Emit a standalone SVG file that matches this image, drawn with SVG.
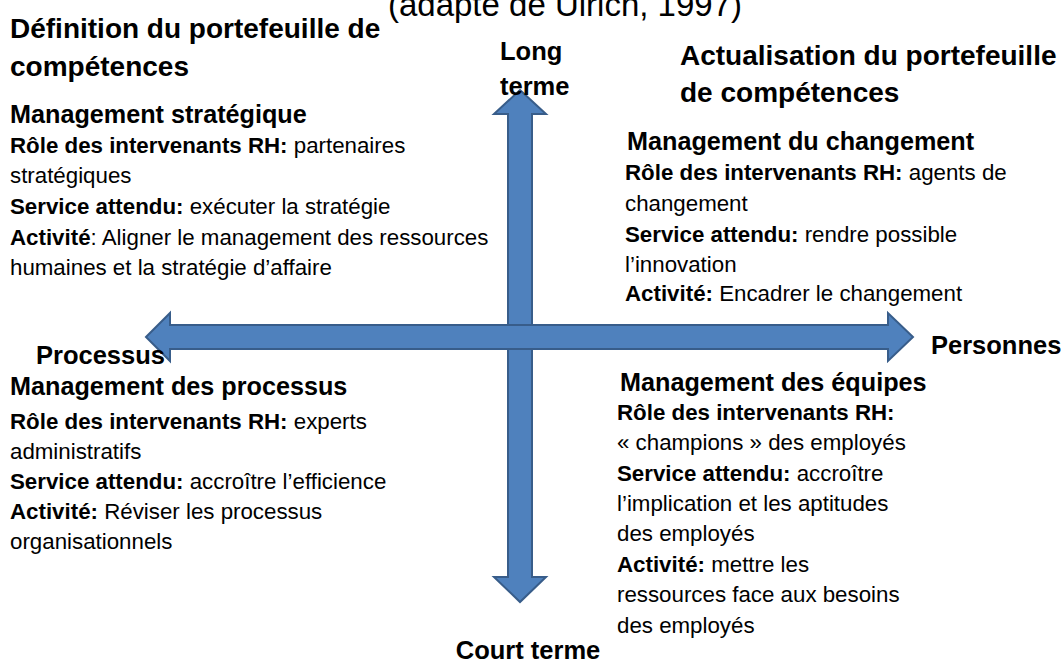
<svg xmlns="http://www.w3.org/2000/svg" width="1064" height="662" viewBox="0 0 1064 662">
  <style>
    text { font-family: "Liberation Sans", Arial, sans-serif; fill: #000; }
    .title { font-size: 33px; }
    .head { font-size: 28px; font-weight: bold; }
    .axis { font-size: 25.5px; font-weight: bold; }
    .sub { font-size: 25.2px; font-weight: bold; }
    .body { font-size: 22.3px; }
    .b { font-weight: bold; }
    .arrow { fill: #4F81BD; stroke: #385D8A; stroke-width: 2; stroke-linejoin: miter; }
  </style>
  <rect width="1064" height="662" fill="#fff"/>

  <!-- source line, partly above the top edge -->
  <text class="title" x="565" y="16" text-anchor="middle">(adapté de Ulrich, 1997)</text>

  <!-- axes: vertical double arrow, then horizontal double arrow on top -->
  <g id="axes">
    <polygon class="arrow" points="520,90 546,114 532,114 532,577 546,577 520,602 494,577 508,577 508,114 494,114"/>
    <polygon class="arrow" points="146,337 170,313 170,325 888,325 888,313 913,337 888,361 888,349 170,349 170,361"/>
  </g>

  <g id="axis-labels">
    <text class="axis" x="500" y="60">Long</text>
    <text class="axis" x="500" y="95">terme</text>
    <text class="axis" x="36" y="364">Processus</text>
    <text class="axis" x="931" y="354">Personnes</text>
    <text class="axis" x="528" y="659" text-anchor="middle">Court terme</text>
  </g>

  <g id="heading-left">
    <text class="head" x="10" y="38">Définition du portefeuille de</text>
    <text class="head" x="10" y="76">compétences</text>
  </g>

  <g id="heading-right">
    <text class="head" x="680" y="65">Actualisation du portefeuille</text>
    <text class="head" x="680" y="102">de compétences</text>
  </g>

  <g id="management-strategique">
    <text class="sub" x="10" y="123">Management stratégique</text>
    <text class="body" x="10" y="153"><tspan class="b">Rôle des intervenants RH:</tspan> partenaires</text>
    <text class="body" x="10" y="183">stratégiques</text>
    <text class="body" x="10" y="214"><tspan class="b">Service attendu:</tspan> exécuter la stratégie</text>
    <text class="body" x="10" y="245"><tspan class="b">Activité</tspan>: Aligner le management des ressources</text>
    <text class="body" x="10" y="275">humaines et la stratégie d’affaire</text>
  </g>

  <g id="management-changement">
    <text class="sub" x="627" y="150">Management du changement</text>
    <text class="body" x="625" y="180"><tspan class="b">Rôle des intervenants RH:</tspan> agents de</text>
    <text class="body" x="625" y="211">changement</text>
    <text class="body" x="625" y="242"><tspan class="b">Service attendu:</tspan>  rendre possible</text>
    <text class="body" x="625" y="272">l’innovation</text>
    <text class="body" x="625" y="301"><tspan class="b">Activité:</tspan> Encadrer le changement</text>
  </g>

  <g id="management-processus">
    <text class="sub" x="10" y="395">Management des processus</text>
    <text class="body" x="10" y="429"><tspan class="b">Rôle des intervenants RH:</tspan> experts</text>
    <text class="body" x="10" y="459">administratifs</text>
    <text class="body" x="10" y="489"><tspan class="b">Service attendu:</tspan> accroître l’efficience</text>
    <text class="body" x="10" y="519"><tspan class="b">Activité:</tspan> Réviser les processus</text>
    <text class="body" x="10" y="549">organisationnels</text>
  </g>

  <g id="management-equipes">
    <text class="sub" x="620" y="391">Management des équipes</text>
    <text class="body" x="617" y="420"><tspan class="b">Rôle des intervenants RH:</tspan></text>
    <text class="body" x="617" y="450">« champions » des employés</text>
    <text class="body" x="617" y="481"><tspan class="b">Service attendu:</tspan>  accroître</text>
    <text class="body" x="617" y="511">l’implication et les aptitudes</text>
    <text class="body" x="617" y="541">des employés</text>
    <text class="body" x="617" y="572"><tspan class="b">Activité:</tspan> mettre les</text>
    <text class="body" x="617" y="602">ressources face aux besoins</text>
    <text class="body" x="617" y="633">des employés</text>
  </g>
</svg>
